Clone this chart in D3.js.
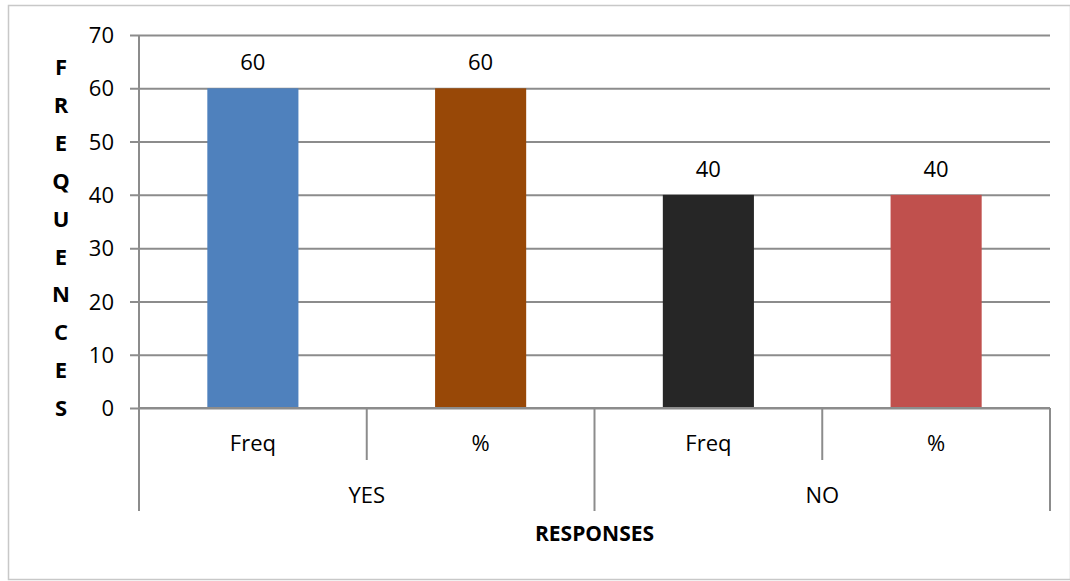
<!DOCTYPE html>
<html>
<head>
<meta charset="utf-8">
<script src="https://cdn.jsdelivr.net/npm/d3@7"></script>
<style>
  html, body { margin: 0; padding: 0; background: #fff; }
  svg text { font-family: "Open Sans", "Liberation Sans", sans-serif; fill: #000; }
</style>
</head>
<body>
<svg id="chart" width="1070" height="581"></svg>
<script>
// Responses grouped by answer, each with a frequency and a percentage bar
const groups = ["YES", "NO"];
const subLabels = ["Freq", "%", "Freq", "%"];
const barGroup = ["YES", "YES", "NO", "NO"];
const values = [60, 60, 40, 40];
const barColors = ["#4F81BD", "#984807", "#262626", "#C0504D"];
const yTicks = [0, 10, 20, 30, 40, 50, 60, 70];
const yTitle = "FREQUENCES";
const xTitle = "RESPONSES";

const svg = d3.select("#chart");
const W = 1070, H = 581;
const plot = { left: 139, right: 1050, top: 35, bottom: 408 };
const fs = 22;

// chart frame
svg.append("rect")
  .attr("x", 8.5).attr("y", 5.5)
  .attr("width", W - 8).attr("height", H - 7)
  .attr("fill", "none").attr("stroke", "#c8c8c8").attr("stroke-width", 1.5);

const x = d3.scaleBand()
  .domain(d3.range(values.length))
  .range([plot.left, plot.right])
  .paddingInner(0).paddingOuter(0);

const y = d3.scaleLinear().domain([0, 70]).range([plot.bottom, plot.top]);

const gridColor = "#8c8c8c";

// horizontal gridlines with left tick marks
const yAxis = d3.axisLeft(y).tickValues(yTicks).tickSize(-(plot.right - plot.left)).tickPadding(25);
const gy = svg.append("g").attr("transform", `translate(${plot.left},0)`).call(yAxis);
gy.attr("font-size", null).attr("font-family", null);
gy.select(".domain").remove();
gy.selectAll(".tick line").attr("stroke", gridColor).attr("stroke-width", 2).attr("x1", -9);
gy.selectAll(".tick text").attr("font-size", fs).attr("dy", "0.35em");

// vertical axis line, extended down through the category rows
svg.append("line")
  .attr("x1", plot.left).attr("x2", plot.left)
  .attr("y1", plot.top).attr("y2", 511)
  .attr("stroke", gridColor).attr("stroke-width", 2);

// bars
svg.append("g").selectAll("rect").data(values).join("rect")
  .attr("x", (d, i) => x(i) + x.bandwidth() * 0.3)
  .attr("width", x.bandwidth() * 0.4)
  .attr("y", d => y(d))
  .attr("height", d => y(0) - y(d))
  .attr("fill", (d, i) => barColors[i]);

// value labels above bars
svg.append("g").selectAll("text").data(values).join("text")
  .attr("x", (d, i) => x(i) + x.bandwidth() / 2)
  .attr("y", d => y(d) - 18)
  .attr("text-anchor", "middle")
  .attr("font-size", fs)
  .text(d => d);

// x axis baseline
svg.append("line")
  .attr("x1", plot.left).attr("x2", plot.right)
  .attr("y1", plot.bottom).attr("y2", plot.bottom)
  .attr("stroke", gridColor).attr("stroke-width", 2);

// category separators: short between sub-bars, long between groups
const boundaries = d3.range(values.length + 1);
svg.append("g").selectAll("line").data(boundaries).join("line")
  .attr("x1", i => i < values.length ? x(i) : plot.right)
  .attr("x2", i => i < values.length ? x(i) : plot.right)
  .attr("y1", plot.bottom)
  .attr("y2", i => (i === 0 || i === values.length || barGroup[i] !== barGroup[i - 1]) ? 511 : 460)
  .attr("stroke", gridColor).attr("stroke-width", 2);

// sub-category labels
svg.append("g").selectAll("text").data(subLabels).join("text")
  .attr("x", (d, i) => x(i) + x.bandwidth() / 2)
  .attr("y", 451)
  .attr("text-anchor", "middle")
  .attr("font-size", fs)
  .text(d => d);

// group labels
svg.append("g").selectAll("text").data(groups).join("text")
  .attr("x", g => {
    const idx = barGroup.map((b, i) => b === g ? i : -1).filter(i => i >= 0);
    return (x(idx[0]) + x(idx[idx.length - 1]) + x.bandwidth()) / 2;
  })
  .attr("y", 503)
  .attr("text-anchor", "middle")
  .attr("font-size", fs)
  .text(d => d);

// x axis title
svg.append("text")
  .attr("x", (plot.left + plot.right) / 2)
  .attr("y", 541)
  .attr("text-anchor", "middle")
  .attr("font-size", 21)
  .attr("font-weight", "bold")
  .text(xTitle);

// y axis title, stacked letters
svg.append("g").selectAll("text").data(yTitle.split("")).join("text")
  .attr("x", 61)
  .attr("y", (d, i) => 75 + i * 37.9)
  .attr("text-anchor", "middle")
  .attr("font-size", 22)
  .attr("font-weight", "bold")
  .text(d => d);
</script>
</body>
</html>
